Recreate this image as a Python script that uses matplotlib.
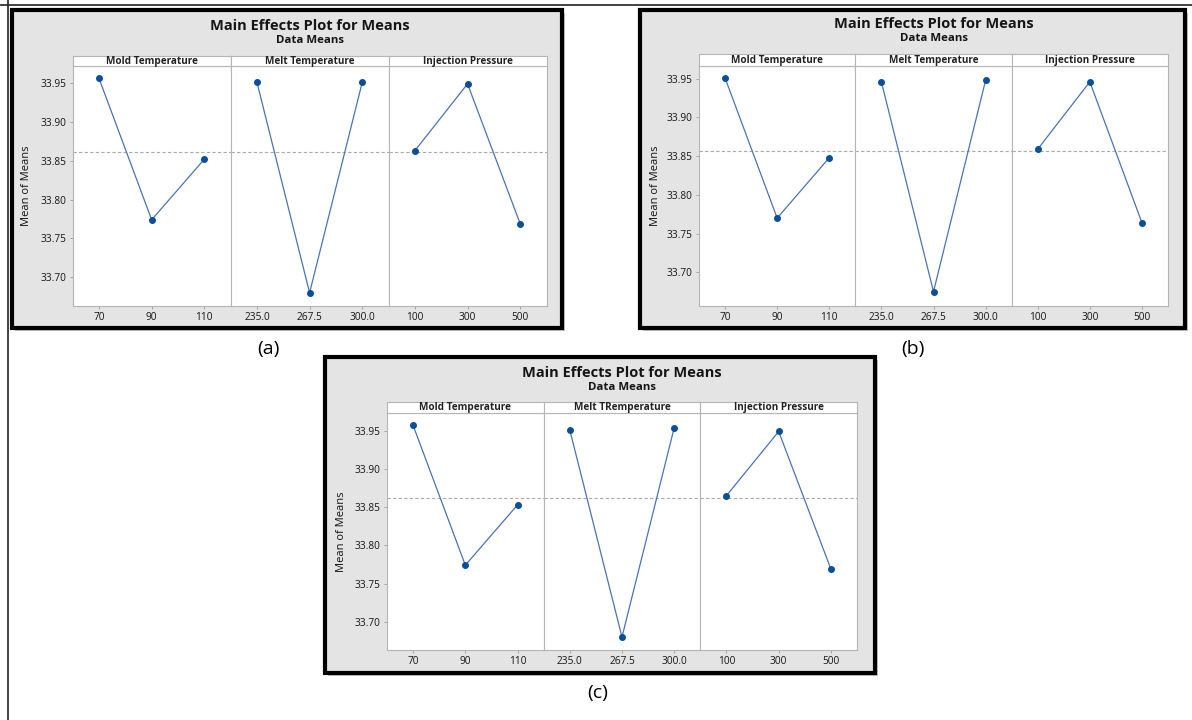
import numpy as np
import matplotlib.pyplot as plt
from matplotlib.patches import Rectangle
from matplotlib.lines import Line2D

plt.rcParams['font.family'] = ['Open Sans', 'DejaVu Sans']

# factor levels
mold_levels = ["70", "90", "110"]
melt_levels = ["235.0", "267.5", "300.0"]
inj_levels = ["100", "300", "500"]

# mean of means
a_mold = [33.956, 33.774, 33.852]
a_melt = [33.951, 33.680, 33.951]
a_inj = [33.863, 33.949, 33.769]

b_mold = [33.951, 33.770, 33.848]
b_melt = [33.946, 33.675, 33.948]
b_inj = [33.859, 33.946, 33.764]

c_mold = [33.957, 33.774, 33.853]
c_melt = [33.951, 33.680, 33.954]
c_inj = [33.865, 33.949, 33.769]

yticks = [33.70, 33.75, 33.80, 33.85, 33.90, 33.95]

W, H = 1192, 720
fig = plt.figure(figsize=(W / 100, H / 100), dpi=100)
fig.patch.set_facecolor('white')


def fx(x):
    return x / W


def fy(y):
    return 1 - y / H


def box(x0, y0, x1, y1):
    # pixel box (top-left origin) -> figure rect
    return [fx(x0), fy(y1), fx(x1) - fx(x0), fy(y0) - fy(y1)]


# thin border lines of the surrounding table
fig.add_artist(Line2D([0, 1], [fy(4.5), fy(4.5)], color='#222222', lw=1.2))
fig.add_artist(Line2D([fx(8.3), fx(8.3)], [0, 1], color='#222222', lw=1.2))


def main_effects(frame, plot, strip_top, ylim, title_y, ylab_x, label, label_pos,
                 mold, melt, inj, names):
    x0, y0, x1, y1 = frame
    # shadow + frame
    fig.add_artist(Rectangle((fx(x0 + 3), fy(y1 + 3)), fx(x1) - fx(x0), fy(y0) - fy(y1),
                             transform=fig.transFigure, facecolor='#c4c4c4',
                             edgecolor='none', zorder=0))
    fig.add_artist(Rectangle((fx(x0), fy(y1)), fx(x1) - fx(x0), fy(y0) - fy(y1),
                             transform=fig.transFigure, facecolor='#e4e4e4',
                             edgecolor='black', lw=3.0, zorder=1))
    cx = (plot[0] + plot[2]) / 2
    fig.text(fx(cx), fy(title_y), "Main Effects Plot for Means", ha='center', va='center',
             fontsize=10.5, fontweight='bold', color='#151515', zorder=5)
    fig.text(fx(cx), fy(title_y + 14.5), "Data Means", ha='center', va='center',
             fontsize=8.2, fontweight='bold', color='#151515', zorder=5)
    fig.text(fx(ylab_x), fy((plot[1] + plot[3]) / 2), "Mean of Means", rotation=90,
             ha='center', va='center', fontsize=8, color='#111111', zorder=5)
    fig.text(fx(label_pos[0]), fy(label_pos[1]), label, ha='center', va='center',
             fontsize=14, color='black')

    left, top, right, bottom = plot
    sw = (right - left) / 3
    grand = np.mean(mold)
    for i, (vals, levels, name) in enumerate(zip([mold, melt, inj],
                                                 [mold_levels, melt_levels, inj_levels], names)):
        l = left + i * sw
        ax = fig.add_axes(box(l, top, l + sw, bottom))
        ax.set_zorder(3)
        ax.set_facecolor('white')
        pos = np.arange(len(levels))
        ax.axhline(grand, color='#aaaaaa', ls=(0, (3, 2)), lw=0.8, zorder=1)
        ax.plot(pos, vals, color='#4a74b0', lw=0.9, zorder=2)
        ax.plot(pos, vals, 'o', color='#0b4f9c', ms=4.0, zorder=3)
        ax.set_xlim(-0.5, 2.5)
        ax.set_ylim(*ylim)
        ax.set_xticks(pos)
        ax.set_xticklabels(levels)
        ax.set_yticks(yticks)
        ax.set_yticklabels([f"{t:.2f}" for t in yticks])
        ax.tick_params(axis='both', length=2.5, width=0.6, color='#999999',
                       labelsize=7.3, labelcolor='#151515', pad=2)
        if i > 0:
            ax.tick_params(axis='y', left=False, labelleft=False)
        for s in ax.spines.values():
            s.set_color('#b5b5b5')
            s.set_linewidth(0.8)
        # strip header
        st = fig.add_axes(box(l, strip_top, l + sw, top))
        st.set_zorder(3)
        st.set_facecolor('white')
        st.set_xticks([])
        st.set_yticks([])
        for s in st.spines.values():
            s.set_color('#b5b5b5')
            s.set_linewidth(0.8)
        st.text(0.5, 0.45, name, ha='center', va='center', transform=st.transAxes,
                fontsize=7.2, fontweight='bold', color='#222222')


main_effects((12, 10, 562, 328), (72.7, 66, 546.5, 306), 55.7, (33.663, 33.972),
             25.7, 27, "(a)", (268, 349), a_mold, a_melt, a_inj,
             ["Mold Temperature", "Melt Temperature", "Injection Pressure"])
main_effects((639.6, 10, 1185, 328), (699, 65.7, 1168, 306), 54.3, (33.6565, 33.9668),
             24.3, 655, "(b)", (913, 349), b_mold, b_melt, b_inj,
             ["Mold Temperature", "Melt Temperature", "Injection Pressure"])
main_effects((325.4, 356.7, 875, 673), (387, 412.7, 857, 650), 402, (33.663, 33.9736),
             372.7, 342, "(c)", (598, 693), c_mold, c_melt, c_inj,
             ["Mold Temperature", "Melt TRemperature", "Injection Pressure"])

fig.savefig("out.png", dpi=100)
